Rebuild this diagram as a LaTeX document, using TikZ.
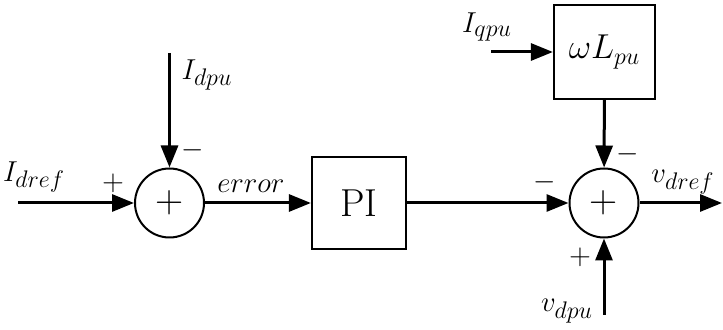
\documentclass[tikz,border=0pt]{standalone}
\usetikzlibrary{arrows.meta}
\newcommand{\subtxt}[1]{\mbox{\fontsize{12}{12}\selectfont$#1$}}
\begin{document}
\begin{tikzpicture}[x=0.5pt,y=-0.5pt,
  sumnode/.style={circle,draw,line width=1pt,minimum size=34.5pt,inner sep=0pt,font=\fontsize{19.5}{20}\selectfont},
  blk/.style={draw,line width=1.1pt,inner sep=0pt},
  sig/.style={line width=1.5pt,-{Triangle[length=11pt,width=8.5pt]}},
  sgn/.style={inner sep=0pt,font=\fontsize{14.4}{15}\selectfont},
  lbl/.style={inner sep=0pt,font=\fontsize{14.4}{15}\selectfont}]
\useasboundingbox (0,0) rectangle (723,330);
% blocks
\node[sumnode] (s1) at (169.5,203) {+};
\node[blk,minimum width=47pt,minimum height=46pt,font=\fontsize{19.5}{20}\selectfont] (pi) at (359,203) {PI};
\node[sumnode] (s2) at (604,203) {+};
\node[blk,minimum width=50.5pt,minimum height=47pt,font=\fontsize{17.28}{18}\selectfont] (wl) at (604.5,52) {$\omega L_{pu}$};
% free ends
\coordinate (in1) at (18,203);
\coordinate (in2) at (169.5,53);
\coordinate (iq) at (491,52);
\coordinate (vd) at (604,315);
\coordinate (out) at (722,203);
% connectors
\draw[sig] (in1) -- (s1);
\draw[sig] (in2) -- (s1);
\draw[sig] (s1) -- (pi);
\draw[sig] (pi) -- (s2);
\draw[sig] (iq) -- (wl);
\draw[sig] (wl) -- (s2);
\draw[sig] (vd) -- (s2);
\draw[sig] (s2) -- (out);
% labels
\node[lbl] (lidref) at (34,177) {$I_{\subtxt{dref}}$};
\node[lbl] (lidpu) at (207,75) {$I_{\subtxt{dpu}}$};
\node[lbl] (liqpu) at (487,27) {$I_{\subtxt{qpu}}$};
\node[lbl] (lerr) at (251,186) {$error$};
\node[lbl] (lvdref) at (683,182) {$v_{\subtxt{dref}}$};
\node[lbl] (lvdpu) at (567,311) {$v_{\subtxt{dpu}}$};
% signs
\node[sgn] (p1) at (113,183) {+};
\node[sgn] (m1) at (193,150) {$-$};
\node[sgn] (m2) at (545,182) {$-$};
\node[sgn] (m3) at (628,154) {$-$};
\node[sgn] (p2) at (580,257) {+};
\end{tikzpicture}
\end{document}
